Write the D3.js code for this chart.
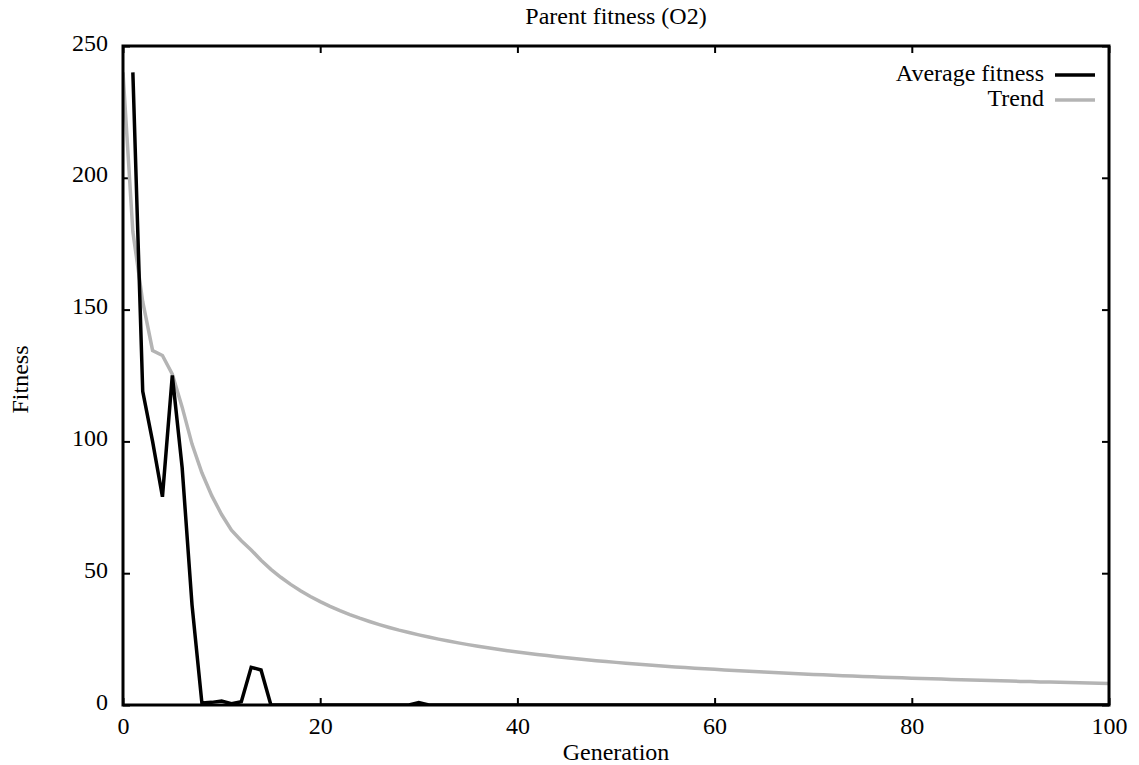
<!DOCTYPE html>
<html>
<head>
<meta charset="utf-8">
<script src="https://cdn.jsdelivr.net/npm/d3@7"></script>
<style>
  html, body { margin: 0; padding: 0; background: #fff; }
  svg { display: block; }
  text { font-family: "Liberation Serif", "Times New Roman", serif; fill: #000; }
</style>
</head>
<body>
<svg id="chart" width="1139" height="765"></svg>
<script>
// ---- Data ----
const title = "Parent fitness (O2)";
const xLabel = "Generation";
const yLabel = "Fitness";
const seriesNames = ["Average fitness", "Trend"];

const xTicks = [0, 20, 40, 60, 80, 100];
const yTicks = [0, 50, 100, 150, 200, 250];

// Average fitness, generations 1..100
const avgGenerations = d3.range(1, 101);
const avgFitness = [
  240, 119, 100, 79, 125, 90, 38, 0.8, 1.0, 1.5,
  0.5, 1.2, 14.3, 13.3, 0, 0, 0, 0, 0, 0,
  0, 0, 0, 0, 0, 0, 0, 0, 0, 0.9,
  0, 0, 0, 0, 0, 0, 0, 0, 0, 0,
  0, 0, 0, 0, 0, 0, 0, 0, 0, 0,
  0, 0, 0, 0, 0, 0, 0, 0, 0, 0,
  0, 0, 0, 0, 0, 0, 0, 0, 0, 0,
  0, 0, 0, 0, 0, 0, 0, 0, 0, 0,
  0, 0, 0, 0, 0, 0, 0, 0, 0, 0,
  0, 0, 0, 0, 0, 0, 0, 0, 0, 0
];

// Trend, x = 0..100
const trendX = d3.range(0, 101);
const trendValues = [
  240, 179.5, 153.0, 134.5, 132.6, 125.5, 113.0, 98.98, 88.09, 79.43,
  72.25, 66.33, 62.33, 58.83, 54.91, 51.48, 48.45, 45.76, 43.35, 41.18,
  39.22, 37.44, 35.81, 34.32, 32.94, 31.68, 30.50, 29.41, 28.40, 27.48,
  26.60, 25.77, 24.98, 24.25, 23.56, 22.90, 22.28, 21.70, 21.14, 20.61,
  20.11, 19.63, 19.17, 18.74, 18.32, 17.92, 17.54, 17.18, 16.83, 16.49,
  16.17, 15.86, 15.56, 15.27, 14.99, 14.72, 14.46, 14.22, 13.97, 13.74,
  13.52, 13.30, 13.09, 12.88, 12.68, 12.49, 12.31, 12.13, 11.95, 11.78,
  11.61, 11.45, 11.29, 11.14, 10.99, 10.85, 10.71, 10.57, 10.44, 10.31,
  10.18, 10.05, 9.93, 9.82, 9.70, 9.59, 9.48, 9.37, 9.26, 9.16,
  9.06, 8.96, 8.87, 8.77, 8.68, 8.59, 8.50, 8.41, 8.33, 8.25,
  8.16
];

// ---- Layout ----
const W = 1139, H = 765;
const margin = { left: 123, top: 46, right: 30, bottom: 60 };
const plotW = 986, plotH = 659;
const fontSize = 24;
const fontFamily = '"Liberation Serif", "Times New Roman", serif';

const svg = d3.select("#chart");
const g = svg.append("g").attr("transform", `translate(${margin.left},${margin.top})`);

const x = d3.scaleLinear().domain([0, 100]).range([0, plotW]);
const y = d3.scaleLinear().domain([0, 250]).range([plotH, 0]);

// clip
svg.append("defs").append("clipPath").attr("id", "clip")
  .append("rect").attr("x", 0).attr("y", 0).attr("width", plotW).attr("height", plotH);

// Axes with inward ticks, labels
const tickLen = 7;
const xAxisB = d3.axisBottom(x).tickValues(xTicks).tickSize(-tickLen).tickPadding(tickLen + 6).tickFormat(d3.format("d"));
const xAxisT = d3.axisTop(x).tickValues(xTicks).tickSize(-tickLen).tickFormat("");
const yAxisL = d3.axisLeft(y).tickValues(yTicks).tickSize(-tickLen).tickPadding(tickLen + 8).tickFormat(d3.format("d"));
const yAxisR = d3.axisRight(y).tickValues(yTicks).tickSize(-tickLen).tickFormat("");

function styleAxis(sel) {
  sel.attr("font-family", null).attr("font-size", null);
  sel.select(".domain").remove();
  sel.selectAll(".tick line").attr("stroke", "#000").attr("stroke-width", 2);
  sel.selectAll(".tick text").style("font-family", fontFamily).style("font-size", fontSize + "px").attr("fill", "#000");
}

const gxb = g.append("g").attr("transform", `translate(0,${plotH})`).call(xAxisB).call(styleAxis);
gxb.selectAll(".tick text").attr("dy", null).attr("y", 29);
g.append("g").call(xAxisT).call(styleAxis);
const gyl = g.append("g").call(yAxisL).call(styleAxis);
gyl.selectAll(".tick text").attr("dy", null).attr("y", 4).attr("x", -15);
g.append("g").attr("transform", `translate(${plotW},0)`).call(yAxisR).call(styleAxis);

// Lines
const line = d3.line().x(d => x(d[0])).y(d => y(d[1]));
const plotArea = g.append("g").attr("clip-path", "url(#clip)");

plotArea.append("path")
  .datum(trendX.map((d, i) => [d, trendValues[i]]))
  .attr("fill", "none").attr("stroke", "#b4b4b4").attr("stroke-width", 3.5)
  .attr("stroke-linejoin", "miter").attr("d", line);

plotArea.append("path")
  .datum(avgGenerations.map((d, i) => [d, avgFitness[i]]))
  .attr("fill", "none").attr("stroke", "#000").attr("stroke-width", 3.5)
  .attr("stroke-linejoin", "miter").attr("d", line);

// Frame
g.append("rect").attr("x", 0).attr("y", 0).attr("width", plotW).attr("height", plotH)
  .attr("fill", "none").attr("stroke", "#000").attr("stroke-width", 3);

// Title and axis labels
svg.append("text").attr("x", margin.left + plotW / 2).attr("y", 24)
  .attr("text-anchor", "middle").style("font-family", fontFamily).style("font-size", fontSize + "px").text(title);
svg.append("text").attr("x", margin.left + plotW / 2).attr("y", 760)
  .attr("text-anchor", "middle").style("font-family", fontFamily).style("font-size", fontSize + "px").text(xLabel);
svg.append("text").attr("transform", `translate(28,${margin.top + plotH / 2 + 4}) rotate(-90)`)
  .attr("text-anchor", "middle").style("font-family", fontFamily).style("font-size", fontSize + "px").text(yLabel);

// Legend
const legendColors = ["#000", "#b4b4b4"];
const legend = svg.append("g");
seriesNames.forEach((name, i) => {
  const yy = 75 + i * 25;
  legend.append("text").attr("x", 1044).attr("y", yy + 6).attr("text-anchor", "end")
    .style("font-family", fontFamily).style("font-size", fontSize + "px").text(name);
  legend.append("line").attr("x1", 1055).attr("x2", 1095).attr("y1", yy).attr("y2", yy)
    .attr("stroke", legendColors[i]).attr("stroke-width", 3.5);
});
</script>
</body>
</html>
